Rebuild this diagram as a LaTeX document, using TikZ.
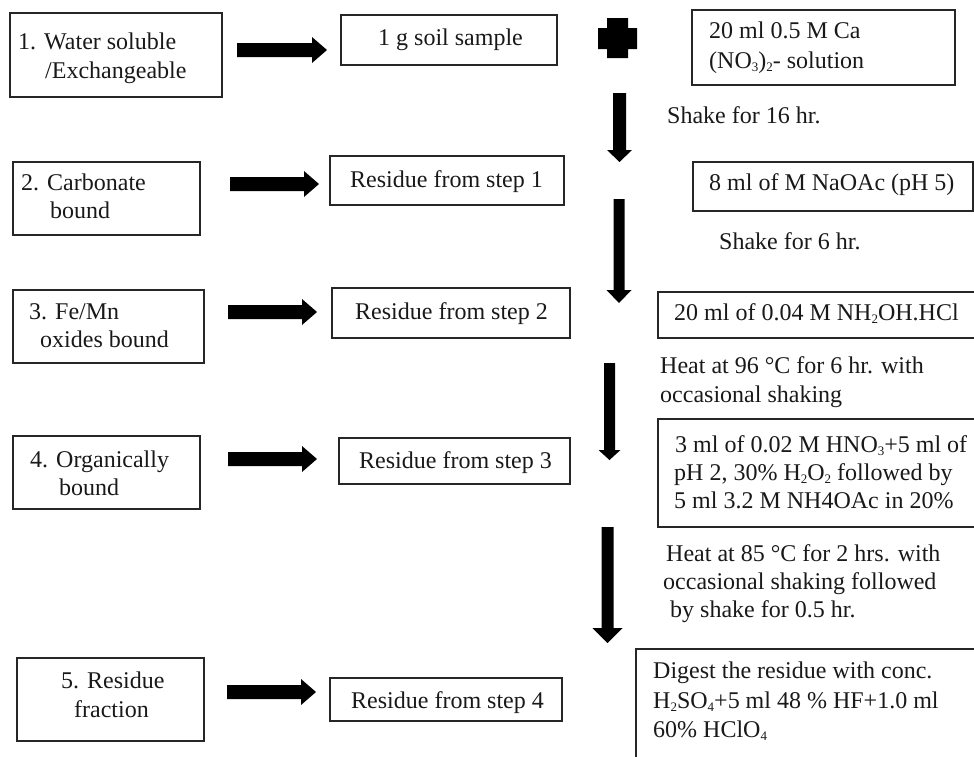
\documentclass[tikz,border=0pt]{standalone}
\usepackage{fontspec}
\setmainfont{Liberation Serif}
\usetikzlibrary{fit}
\newcommand\mysub[1]{\raisebox{-0.3ex}{\fontsize{13}{13}\selectfont #1}}
\newcommand\myharrow[3]{% x1, x2, y
  \fill[black] (#1,#3-7) -- (#2-15,#3-7) -- (#2-15,#3-13) -- (#2,#3) -- (#2-15,#3+13) -- (#2-15,#3+7) -- (#1,#3+7) -- cycle;}
\newcommand\myvarrow[6]{% cx, ytop, ytip, shaft half, head half, head length
  \fill[black] (#1-#4,#2) -- (#1+#4,#2) -- (#1+#4,#3-#6) -- (#1+#5,#3-#6) -- (#1,#3) -- (#1-#5,#3-#6) -- (#1-#4,#3-#6) -- cycle;}
\begin{document}
\begin{tikzpicture}[x=1pt,y=-1pt,
  box/.style={draw=black!85, line width=1.2pt, inner sep=0pt},
  txt/.style={anchor=base west, inner sep=0pt, font=\fontsize{24}{28.5}\selectfont, text=black!90}]
\useasboundingbox (0,0) rectangle (974,756);
\clip (0,0) rectangle (974,756);
% boxes
\node[box, fit={(10,13) (222,97)}] (L1) {};
\node[box, fit={(341,15) (557,65)}] (S1) {};
\node[box, fit={(692,10) (955,85)}] (R1) {};
\node[box, fit={(13,162) (200,235)}] (L2) {};
\node[box, fit={(330,156) (564,205)}] (S2) {};
\node[box, fit={(693,162) (973,211)}] (R2) {};
\node[box, fit={(13,290) (204,363)}] (L3) {};
\node[box, fit={(332,288) (570,338)}] (S3) {};
\node[box, fit={(658,292) (990,338)}] (R3) {};
\node[box, fit={(13,436) (200,509)}] (L4) {};
\node[box, fit={(339,438) (570,484)}] (S4) {};
\node[box, fit={(658,419) (990,527)}] (R4) {};
\node[box, fit={(17,658) (204,741)}] (L5) {};
\node[box, fit={(330,678) (562,721)}] (S5) {};
\node[box, fit={(636,649) (990,780)}] (R5) {};
% texts
\node[txt] (t1a) at (18,49) {1. Water soluble};
\node[txt] (t1b) at (45,78) {/Exchangeable};
\node[txt] (s1) at (378,45) {1 g soil sample};
\node[txt] (r1a) at (709,38) {20 ml 0.5 M Ca};
\node[txt] (r1b) at (709,68) {(NO\mysub{3})\mysub{2}- solution};
\node[txt] (c1) at (667,123) {Shake for 16 hr.};
\node[txt] (t2a) at (21,190) {2. Carbonate};
\node[txt] (t2b) at (50,218) {bound};
\node[txt] (s2) at (350,187) {Residue from step 1};
\node[txt] (r2) at (709,190) {8 ml of M NaOAc (pH 5)};
\node[txt] (c2) at (719,249) {Shake for 6 hr.};
\node[txt] (t3a) at (29,319) {3. Fe/Mn};
\node[txt] (t3b) at (40,347) {oxides bound};
\node[txt] (s3) at (355,319) {Residue from step 2};
\node[txt] (r3) at (674,320) {20 ml of 0.04 M NH\mysub{2}OH.HCl};
\node[txt] (c3a) at (660,373) {Heat at 96 °C for 6 hr. with};
\node[txt] (c3b) at (660,402) {occasional shaking};
\node[txt] (t4a) at (30,467) {4. Organically};
\node[txt] (t4b) at (59,495) {bound};
\node[txt] (s4) at (359,468) {Residue from step 3};
\node[txt] (r4a) at (675,452) {3 ml of 0.02 M HNO\mysub{3}+5 ml of};
\node[txt] (r4b) at (674,480) {pH 2, 30\% H\mysub{2}O\mysub{2} followed by};
\node[txt] (r4c) at (674,508) {5 ml 3.2 M NH4OAc in 20\%};
\node[txt] (c4a) at (666,561) {Heat at 85 °C for 2 hrs. with};
\node[txt] (c4b) at (663,589) {occasional shaking followed};
\node[txt] (c4c) at (670,617) {by shake for 0.5 hr.};
\node[txt] (t5a) at (61,688) {5. Residue};
\node[txt] (t5b) at (74,717) {fraction};
\node[txt] (s5) at (351,708) {Residue from step 4};
\node[txt] (r5a) at (653,678) {Digest the residue with conc.};
\node[txt] (r5b) at (653,708) {H\mysub{2}SO\mysub{4}+5 ml 48 \% HF+1.0 ml};
\node[txt] (r5c) at (653,737) {60\% HClO\mysub{4}};
% horizontal block arrows
\myharrow{237}{327}{50}
\myharrow{230}{319}{184}
\myharrow{228}{317}{312}
\myharrow{228}{317}{459}
\myharrow{227}{316}{692}
% vertical block arrows
\myvarrow{619.5}{93}{162}{6.5}{12.5}{12}
\myvarrow{619}{199}{303}{5.5}{12.5}{13}
\myvarrow{609.5}{363}{460}{5.5}{11}{10}
\myvarrow{607.5}{527}{643}{6}{15}{15}
% plus sign
\fill[black] (607,18) -- (628,18) -- (628,28) -- (637,28) -- (637,49) -- (628,49) -- (628,58) -- (607,58) -- (607,49) -- (598,49) -- (598,28) -- (607,28) -- cycle;
\end{tikzpicture}
\end{document}
